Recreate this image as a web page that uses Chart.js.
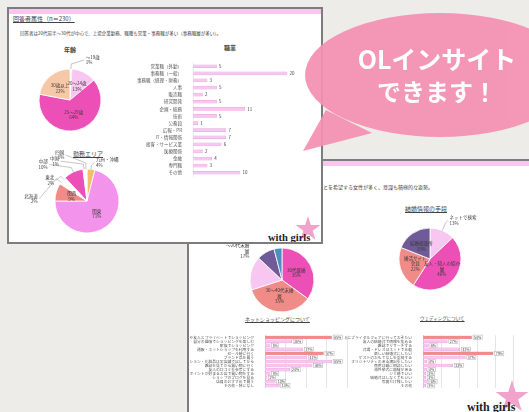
<!DOCTYPE html>
<html lang="ja">
<head>
<meta charset="utf-8">
<title>OLインサイト</title>
<script src="https://cdn.jsdelivr.net/npm/chart.js@4.4.1/dist/chart.umd.min.js"></script>
<style>
  html, body { margin: 0; padding: 0; }
  body {
    width: 529px; height: 412px; overflow: hidden; position: relative;
    background: #eeece8;
    font-family: "Noto Sans CJK JP", "Noto Sans", sans-serif;
    color: #444;
  }
  .slide { position: absolute; background: #fff; border: 2px solid #7d7d7d; overflow: hidden; filter: blur(0.5px); }
  #back { left: 187px; top: 159px; width: 360px; height: 270px; z-index: 1; }
  #front { left: 7px; top: 7px; width: 312px; height: 233px; z-index: 2; }
  .band { position: absolute; left: 0; top: 0; width: 100%; height: 5px; background: #f8c6ef; }
  .t { position: absolute; white-space: nowrap; line-height: 1; }
  .u { text-decoration: underline; }
  .star {
    position: absolute; background: #f2a3cc;
    clip-path: polygon(50% 0%, 61% 35%, 98% 35%, 68% 57%, 79% 91%, 50% 70%, 21% 91%, 32% 57%, 2% 35%, 39% 35%);
  }
  .logo { position: absolute; white-space: nowrap; line-height: 1; font-family: "Liberation Serif", "DejaVu Serif", serif; font-weight: bold; color: #1e1e1e; }
  canvas { position: absolute; }
  #bubble { position: absolute; left: 0; top: 0; z-index: 5; }
</style>
</head>
<body>

<div id="back" class="slide" data-ox="189" data-oy="161">
  <div class="band"></div>
  <div class="t" style="left:0;top:23px;width:244px;text-align:right;font-size:5px;">既婚・未婚問わず、仕事と家庭の両立や長く働くことを希望する女性が多く、意識も積極的な姿勢。</div>
  <div class="t u" style="left:216px;top:45px;font-size:6px;">結婚情報の手段</div>
  <div class="t u" style="left:56px;top:155px;font-size:5px;">ネットショッピングについて</div>
  <div class="t u" style="left:231px;top:155px;font-size:4.5px;">ウェディングについて</div>
  <div class="star" style="left:306px;top:219px;width:34px;height:34px;"></div>
  <div class="logo" style="left:278px;top:240px;font-size:12px;">with girls</div>
</div>

<div id="front" class="slide" data-ox="9" data-oy="9">
  <div class="band"></div>
  <div class="t u" style="left:4px;top:7px;font-size:6px;">回答者属性（n＝230）</div>
  <div class="t" style="left:11px;top:22px;font-size:4.5px;">回答者は20代前半～30代が中心で、上場企業勤務、職種も営業・事務職が多い（事務職層が多い）。</div>
  <div class="t" style="left:55px;top:38px;font-size:6px;font-weight:bold;">年齢</div>
  <div class="t" style="left:215px;top:36px;font-size:6px;font-weight:bold;">職業</div>
  <div class="t u" style="left:64px;top:142px;font-size:6px;">勤務エリア</div>
  <div class="star" style="left:286px;top:207px;width:26px;height:26px;"></div>
  <div class="logo" style="left:259px;top:224px;font-size:10.5px;">with girls</div>
</div>

<svg id="bubble" width="529" height="412">
  <g fill="#f590b1" opacity="0.93">
    <ellipse cx="440" cy="75" rx="135" ry="62"/>
    <polygon points="326,110 303,151 372,133"/>
  </g>
  <g fill="#ffffff" font-family="Noto Sans CJK JP, sans-serif" font-weight="700" text-anchor="middle">
    <text x="437" y="69" font-size="25">OLインサイト</text>
    <text x="437" y="101" font-size="24">できます！</text>
  </g>
</svg>

<script>
const FONT = '"Noto Sans CJK JP", "Noto Sans", sans-serif';
Chart.defaults.font.family = FONT;

// 年齢
const ageLabels = ['～19歳', '20～24歳', '25～29歳', '30歳以上'];
const ageValues = [1, 13, 64, 22];

// 職業
const jobLabels = ['営業職（外勤）', '事務職（一般）', '事務職（経理・財務）', '人事', '販売職', '研究開発', '企画・総務', '技術',
  '公務員', '広報・PR', 'IT・情報関係', '接客・サービス業', '医療関係', '金融', '専門職', 'その他'];
const jobValues = [5, 20, 3, 5, 2, 5, 11, 5, 1, 7, 7, 6, 2, 4, 3, 10];

// 勤務エリア
const areaLabels = ['九州・沖縄', '関東', '関西', '北海道', '東北', '中部', '中国', '四国'];
const areaValues = [4, 71, 9, 2, 2, 10, 1, 1];

// 回答者層
const lifeLabels = ['30代既婚', '30～40代未婚\n層', '～20代未婚\n層', 'その他', '無回答'];
const lifeValues = [35, 35, 17, 9, 4];

// 結婚情報の手段
const marryLabels = ['ネットで検索', '友人・知人の紹介\n層', '婚活サイト\n会員', '結婚相談所'];
const marryValues = [13, 46, 22, 19];

// ネットショッピングについて
const shopLabels = ['同僚や友人とプライベートでショッピング', '自分の趣味でショッピングを楽しむ', '家族でショッピング',
  '通販・ネットショップを利用する', 'セール時に行く', 'ブランド品を買う', 'ファッション・化粧品は実店舗で試してから',
  '雑誌を見てから買い物に行く', '友人の口コミを参考にする', 'ポイントが貯まるお店で買い物をする',
  'ショップのブログを見る', '店員のおすすめで買う', 'その他・特になし'];
const shopValues = [65, 26, 5, 37, 57, 41, 65, 46, 24, 5, 2, 10, 14];

// ウェディングについて
const weddingLabels = ['早めにブライダルフェアに行っておきたい', '友人の結婚式で情報を集める', '雑誌でリサーチする',
  '式場・ドレスはネットで比較', '楽しい結婚式にしたい', 'ゲストのおもてなしを重視する', 'オリジナリティのある演出をしたい',
  '費用は親に相談したい', '海外挙式に興味がある', 'ジミ婚でいい', '結婚式はしなくてもいい', '写真だけ残したい', 'その他'];
const weddingValues = [54, 27, 6, 41, 78, 47, 4, 33, 4, 3, 3, 6, 3];

const LIGHT = '#f7c6f1', MAGENTA = '#ec50b6', PEACH = '#f7c8a8', SALMON = '#f18b87',
  LILAC = '#f393ec', ORANGE = '#f4bd6e', PURPLE = '#6f5b97', TEAL = '#4c8fbd', WHITE = '#ffffff';

const LABEL_SIZE = 4.5;

// pie labels: inside at the arc's tooltip point, outside with a leader line
const pieLabels = {
  id: 'pieLabels',
  afterDatasetsDraw(chart) {
    const ds = chart.data.datasets[0];
    const ctx = chart.ctx;
    ctx.save();
    ctx.font = `${LABEL_SIZE}px ${FONT}`;
    ctx.fillStyle = '#3a3a3a';
    ctx.strokeStyle = '#a0a0a0';
    ctx.lineWidth = 0.6;
    ctx.textBaseline = 'middle';
    chart.getDatasetMeta(0).data.forEach((arc, i) => {
      const mode = ds.labelMode[i];
      if (!mode) return;
      const lines = (chart.data.labels[i] + '\n' + ds.data[i] + '%').split('\n');
      let x, y;
      if (mode === 'in') {
        ({ x, y } = arc.tooltipPosition());
        ctx.textAlign = 'center';
      } else {
        const o = ds.outside[i];
        const p = arc.getProps(['x', 'y', 'startAngle', 'endAngle', 'outerRadius']);
        const mid = (p.startAngle + p.endAngle) / 2;
        const sx = p.x + Math.cos(mid) * p.outerRadius, sy = p.y + Math.sin(mid) * p.outerRadius;
        const ex = p.x + Math.cos(mid) * (p.outerRadius + o.ext), ey = p.y + Math.sin(mid) * (p.outerRadius + o.ext);
        x = ex + o.dx; y = ey + o.dy;
        if (o.line !== false) {
          ctx.beginPath(); ctx.moveTo(sx, sy); ctx.lineTo(ex, ey); ctx.lineTo(x, y); ctx.stroke();
        }
        const right = x >= p.x;
        ctx.textAlign = right ? 'left' : 'right';
        x += right ? 1.5 : -1.5;
      }
      const lh = LABEL_SIZE + 1;
      lines.forEach((ln, k) => ctx.fillText(ln, x, y + (k - (lines.length - 1) / 2) * lh));
    });
    ctx.restore();
  }
};

// value at the end of each bar
const barValues = {
  id: 'barValues',
  afterDatasetsDraw(chart) {
    const ds = chart.data.datasets[0];
    const ctx = chart.ctx;
    ctx.save();
    ctx.font = `${ds.valueSize}px ${FONT}`;
    ctx.textBaseline = 'middle';
    ctx.textAlign = 'left';
    chart.getDatasetMeta(0).data.forEach((bar, i) => {
      const s = ds.data[i] + (ds.valueSuffix || '');
      const x = bar.x + 2.5, y = bar.y;
      if (ds.valueBox) {
        const w = ctx.measureText(s).width + 2;
        ctx.fillStyle = '#fff'; ctx.strokeStyle = '#aaa'; ctx.lineWidth = 0.5;
        ctx.fillRect(x - 1, y - 2.2, w, 4.4);
        ctx.strokeRect(x - 1, y - 2.2, w, 4.4);
      }
      ctx.fillStyle = '#444';
      ctx.fillText(s, x, y);
    });
    ctx.restore();
  }
};

function makeCanvas(slideId, x, y, w, h) {
  const slide = document.getElementById(slideId);
  const c = document.createElement('canvas');
  c.width = w; c.height = h;
  c.style.left = (x - slide.dataset.ox) + 'px';
  c.style.top = (y - slide.dataset.oy) + 'px';
  c.style.width = w + 'px'; c.style.height = h + 'px';
  slide.appendChild(c);
  return c;
}

function pieChart(canvas, labels, values, colors, radius, labelMode, outside) {
  return new Chart(canvas, {
    type: 'pie',
    data: {
      labels,
      datasets: [{ data: values, backgroundColor: colors, borderColor: '#ffffff', borderWidth: 0.8, labelMode, outside }]
    },
    options: {
      responsive: false, animation: false, radius,
      plugins: { legend: { display: false }, tooltip: { enabled: false } }
    },
    plugins: [pieLabels]
  });
}

function barChart(canvas, labels, values, colors, cfg) {
  return new Chart(canvas, {
    type: 'bar',
    data: {
      labels,
      datasets: [{
        data: values, backgroundColor: colors, borderColor: cfg.edge, borderWidth: 0.5,
        barThickness: cfg.thick, valueSize: cfg.valueSize, valueSuffix: cfg.suffix, valueBox: cfg.box
      }]
    },
    options: {
      indexAxis: 'y', responsive: false, animation: false,
      layout: { padding: { left: 0, top: 0, bottom: 0, right: cfg.padRight } },
      scales: {
        x: {
          min: 0, max: cfg.max, display: cfg.grid,
          ticks: { display: false, stepSize: cfg.step },
          grid: { color: '#d4d4d4', lineWidth: 0.6, drawTicks: false },
          border: { display: false }
        },
        y: {
          grid: { display: false },
          border: { display: true, color: cfg.grid ? '#b5b5b5' : '#e4e4e4', width: 0.6 },
          ticks: { autoSkip: false, padding: 3, color: '#555', font: { size: cfg.fs } },
          afterFit: (s) => { s.width = cfg.yw; }
        }
      },
      plugins: { legend: { display: false }, tooltip: { enabled: false } }
    },
    plugins: [barValues]
  });
}

// front slide
pieChart(makeCanvas('front', 5, 50, 130, 100), ageLabels, ageValues, [WHITE, LIGHT, MAGENTA, PEACH], 31,
  ['out', 'in', 'in', 'in'], { 0: { ext: 5, dx: 13, dy: -4 } });

barChart(makeCanvas('front', 118, 57, 202, 125), jobLabels, jobValues, LIGHT,
  { edge: '#e6a6dc', thick: 3, valueSize: 4.5, max: 27, grid: false, padRight: 0, fs: 4.5, yw: 75 });

pieChart(makeCanvas('front', 7, 146, 160, 110), areaLabels, areaValues,
  [ORANGE, LILAC, SALMON, WHITE, WHITE, MAGENTA, WHITE, WHITE], 32,
  ['out', 'in', 'in', 'out', 'out', 'out', 'out', 'out'],
  {
    0: { ext: 4, dx: 3, dy: -3 },
    3: { ext: 6, dx: -17, dy: 20 },
    4: { ext: 4, dx: -5, dy: 4 },
    5: { ext: 5, dx: -22, dy: -3 },
    6: { ext: 5, dx: -23, dy: -3 },
    7: { ext: 6, dx: -20, dy: -8 }
  });

// back slide
pieChart(makeCanvas('back', 202, 225, 160, 110), lifeLabels, lifeValues, [MAGENTA, SALMON, LIGHT, PURPLE, TEAL], 32,
  ['in', 'in', 'out', null, null], { 2: { ext: 0, dx: 0, dy: -22, line: false } });

pieChart(makeCanvas('back', 350, 209, 160, 100), marryLabels, marryValues, [LIGHT, MAGENTA, SALMON, PURPLE], 31,
  ['out', 'in', 'in', 'in'], { 0: { ext: 9, dx: 2, dy: -2 } });

const shopColors = shopValues.map((v, i) => (i === 0 || i === 4) ? SALMON : LIGHT);
barChart(makeCanvas('back', 190, 330, 165, 63), shopLabels, shopValues, shopColors,
  { edge: '#e39ddb', thick: 3, valueSize: 3.5, suffix: '%', box: true, max: 80, step: 20, grid: true, padRight: 8, fs: 3.8, yw: 75 });

const weddingColors = weddingValues.map((v, i) => (i === 0 || i === 4) ? SALMON : LIGHT);
barChart(makeCanvas('back', 345, 330, 176, 63), weddingLabels, weddingValues, weddingColors,
  { edge: '#e39ddb', thick: 3, valueSize: 3.5, suffix: '%', box: true, max: 100, step: 20, grid: true, padRight: 8, fs: 3.8, yw: 78 });
</script>
</body>
</html>
